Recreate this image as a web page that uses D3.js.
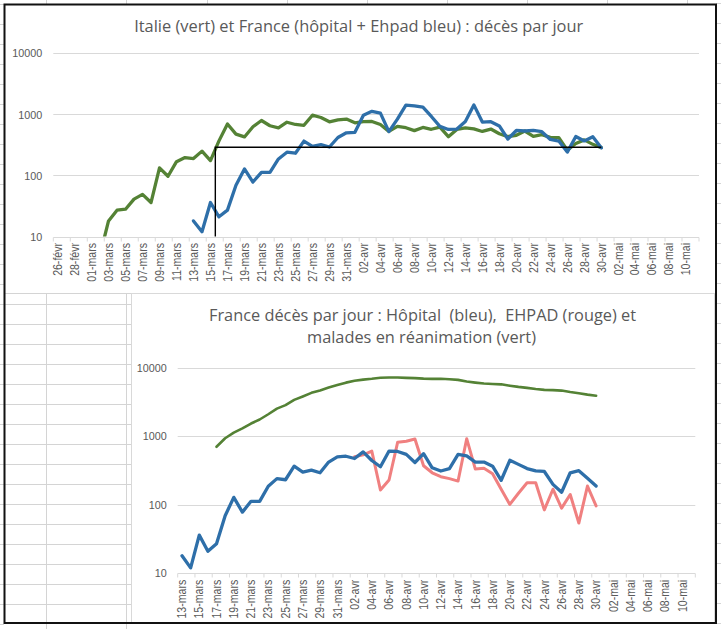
<!DOCTYPE html>
<html><head><meta charset="utf-8">
<script src="https://cdn.jsdelivr.net/npm/d3@7"></script>
<style>body{margin:0;background:#fff}svg{display:block}</style>
</head><body><svg id="c" width="721" height="629"></svg>
<script>
// ---------------- DATA ----------------
const yTicks = [10, 100, 1000, 10000];

const topCategories = ["26-févr","27-févr","28-févr","29-févr",
"01-mars","02-mars","03-mars","04-mars","05-mars","06-mars","07-mars","08-mars","09-mars","10-mars","11-mars","12-mars","13-mars","14-mars","15-mars","16-mars","17-mars","18-mars","19-mars","20-mars","21-mars","22-mars","23-mars","24-mars","25-mars","26-mars","27-mars","28-mars","29-mars","30-mars","31-mars",
"01-avr","02-avr","03-avr","04-avr","05-avr","06-avr","07-avr","08-avr","09-avr","10-avr","11-avr","12-avr","13-avr","14-avr","15-avr","16-avr","17-avr","18-avr","19-avr","20-avr","21-avr","22-avr","23-avr","24-avr","25-avr","26-avr","27-avr","28-avr","29-avr","30-avr",
"01-mai","02-mai","03-mai","04-mai","05-mai","06-mai","07-mai","08-mai","09-mai","10-mai","11-mai"];

const bottomCategories = ["13-mars","14-mars","15-mars","16-mars","17-mars","18-mars","19-mars","20-mars","21-mars","22-mars","23-mars","24-mars","25-mars","26-mars","27-mars","28-mars","29-mars","30-mars","31-mars",
"01-avr","02-avr","03-avr","04-avr","05-avr","06-avr","07-avr","08-avr","09-avr","10-avr","11-avr","12-avr","13-avr","14-avr","15-avr","16-avr","17-avr","18-avr","19-avr","20-avr","21-avr","22-avr","23-avr","24-avr","25-avr","26-avr","27-avr","28-avr","29-avr","30-avr",
"01-mai","02-mai","03-mai","04-mai","05-mai","06-mai","07-mai","08-mai","09-mai","10-mai","11-mai"];

// Top chart: Italy daily deaths (green), from 02-mars
const italyStart = "02-mars";
const italyDeaths = [5,18,27,28,41,49,36,133,97,168,196,189,250,175,368,694,475,427,627,793,651,601,743,683,662,969,889,756,812,837,
727,760,766,681,525,636,604,542,610,570,619,431,566,602,578,525,575,482,433,454,534,437,464,420,415,260,333,382,323,285];

// Top chart: France hospital + Ehpad daily deaths (blue), from 13-mars
const franceStart = "13-mars";
const franceTotalDeaths = [18,12,36,21,27,69,128,78,112,112,186,240,231,365,299,319,292,418,499,509,
971,1120,1046,521,834,1413,1381,1318,924,637,566,575,762,1430,748,758,647,395,545,534,545,520,389,366,241,433,367,430,283];

// Top chart: black reference line (category index of start, end category, level)
const refLineStartIndex = 18.57;
const refLineEnd = "30-avr";
const refLineLevel = 290;

// Bottom chart: hospital deaths (blue) from 13-mars
const hospitalStart = "13-mars";
const hospitalDeaths = [18,12,36,21,27,69,128,78,112,112,186,240,231,365,299,319,292,418,499,509,
471,588,441,357,605,597,541,412,554,345,310,335,541,514,417,418,364,227,444,387,336,311,305,198,152,292,313,243,187];

// Bottom chart: EHPAD deaths (red) from 02-avr
const ehpadStart = "02-avr";
const ehpadDeaths = [500,532,605,164,229,816,840,906,370,292,256,240,221,916,331,340,283,168,101,147,209,209,84,168,89,141,54,187,96];

// Bottom chart: ICU patients (green) from 17-mars
const icuStart = "17-mars";
const icuPatients = [699,931,1122,1297,1525,1746,2082,2516,2827,3375,3787,4273,4632,5107,5565,6017,6399,6662,6838,7072,7131,7148,7066,7004,6883,6821,6845,6730,6599,6248,6027,5833,5744,5683,5433,5218,5053,4870,4725,4682,4608,4387,4207,4019,3878];

const topTitle = "Italie (vert) et France (hôpital + Ehpad bleu) : décès par jour";
const bottomTitle = ["France décès par jour : Hôpital  (bleu),  EHPAD (rouge) et", "malades en réanimation (vert)"];

// ---------------- DRAWING ----------------
const svg = d3.select("#c");
const W = 721, H = 629;
const cellColor = "#D4D4D4";
const textColor = "#595959";
const labelFont = "'Liberation Sans', Arial, sans-serif";
const titleFont = "'Open Sans', 'Noto Sans', sans-serif";

svg.append("rect").attr("width", W).attr("height", H).attr("fill", "#fff");

// spreadsheet cells around / behind
const cells = svg.append("g").attr("stroke", cellColor).attr("stroke-width", 1).attr("shape-rendering", "crispEdges");
const colX = [46.5, 126.5, 207, 287, 367, 447, 527, 607, 687];
colX.forEach(cx => cells.append("line").attr("x1", cx).attr("x2", cx).attr("y1", 0).attr("y2", 4));
d3.range(0, 32).forEach(k => {
  const yy = 4.5 + 20 * k;
  cells.append("line").attr("x1", 0).attr("x2", 4).attr("y1", yy).attr("y2", yy);
  cells.append("line").attr("x1", 716).attr("x2", 721).attr("y1", yy - 1).attr("y2", yy - 1);
  if (yy > 294 && yy < 623) cells.append("line").attr("x1", 4).attr("x2", 131).attr("y1", yy).attr("y2", yy);
});
cells.append("line").attr("x1", 4).attr("x2", 131).attr("y1", 293.5).attr("y2", 293.5);
[46.5, 126.5].forEach(cx => cells.append("line").attr("x1", cx).attr("x2", cx).attr("y1", 293.5).attr("y2", 629));

// bottom chart background & border
svg.append("rect").attr("x", 131.5).attr("y", 293.5).attr("width", 582.5).attr("height", 329)
  .attr("fill", "#fff").attr("stroke", "#D9D9D9").attr("shape-rendering", "crispEdges");

function makeChart(o) {
  const g = svg.append("g");
  const x = d3.scaleBand().domain(o.categories).range([o.left, o.right]).padding(0);
  const bw = x.bandwidth();
  const y = d3.scaleLog().domain([10, 10000]).range([o.bottom, o.top]);
  const xi = d3.scaleLinear().domain([0, o.categories.length]).range([o.left, o.right]);

  g.selectAll(".grid").data(yTicks.slice(1)).join("line")
    .attr("x1", o.left).attr("x2", o.right)
    .attr("y1", d => Math.round(y(d)) + 0.5).attr("y2", d => Math.round(y(d)) + 0.5)
    .attr("stroke", "#D9D9D9").attr("stroke-width", 1);

  const ya = g.append("g").attr("transform", `translate(${o.left},0)`)
    .call(d3.axisLeft(y).tickValues(yTicks).tickFormat(d3.format("d")).tickSize(0).tickPadding(11));
  ya.select(".domain").remove();
  ya.selectAll("text").attr("font-family", labelFont).attr("font-size", 11.5)
    .attr("fill", textColor).attr("textLength", 30).attr("lengthAdjust", "spacingAndGlyphs")
    .each(function (d) { d3.select(this).attr("textLength", String(d).length * 6); });

  const yb = Math.round(o.bottom) + 0.5;
  g.append("line").attr("x1", o.left).attr("x2", o.right).attr("y1", yb).attr("y2", yb)
    .attr("stroke", "#D9D9D9").attr("stroke-width", 1);
  const tickCats = o.categories.filter((d, i) => i % 2 === 0);
  g.selectAll(".xt").data(tickCats.map(d => x(d)).concat([o.right])).join("line")
    .attr("x1", d => d).attr("x2", d => d).attr("y1", yb).attr("y2", yb + 4)
    .attr("stroke", "#D9D9D9").attr("stroke-width", 1);

  const xa = g.append("g").attr("transform", `translate(0,${o.bottom})`)
    .call(d3.axisBottom(x).tickValues(tickCats).tickSize(0));
  xa.select(".domain").remove();
  xa.selectAll("text")
    .attr("transform", "rotate(-90) scale(0.88,1)").attr("x", -7.4).attr("y", 0).attr("dy", "0.35em")
    .attr("text-anchor", "end")
    .attr("font-family", labelFont).attr("font-size", 12).attr("fill", textColor);

  const cid = "clip" + o.id;
  svg.append("clipPath").attr("id", cid).append("rect")
    .attr("x", o.left - 5).attr("y", o.top - 20).attr("width", o.right - o.left + 10).attr("height", o.bottom - o.top + 20);

  const lines = g.append("g").attr("clip-path", `url(#${cid})`);
  o.series.forEach(s => {
    const start = o.categories.indexOf(s.start);
    const pts = s.values.map((v, i) => ({ c: o.categories[start + i], v }));
    const line = d3.line().defined(d => d.v != null).x(d => x(d.c) + bw / 2).y(d => y(d.v));
    lines.append("path").datum(pts).attr("d", line)
      .attr("fill", "none").attr("stroke", s.color).attr("stroke-width", s.width)
      .attr("stroke-linejoin", "round").attr("stroke-linecap", "round");
  });
  return { g, x, y, xi, bw };
}

// ---- top chart ----
const topChart = makeChart({
  id: "t", categories: topCategories, left: 53.3, right: 699, top: 53.3, bottom: 236.5,
  series: [
    { start: italyStart, values: italyDeaths, color: "#548235", width: 3.3 },
    { start: franceStart, values: franceTotalDeaths, color: "#2E6FA9", width: 3.3 }
  ]
});
const refEndIdx = topCategories.indexOf(refLineEnd);
const refPts = [
  [topChart.xi(refLineStartIndex + 0.5), topChart.y(10)],
  [topChart.xi(refLineStartIndex + 0.5), topChart.y(refLineLevel)],
  [topChart.xi(refEndIdx + 0.5), topChart.y(refLineLevel)]
];
topChart.g.append("path").attr("d", d3.line()(refPts)).attr("fill", "none")
  .attr("stroke", "#000").attr("stroke-width", 1.4);

svg.append("text").attr("x", 358.7).attr("y", 32.3).attr("text-anchor", "middle")
  .attr("font-family", titleFont).attr("font-size", 17).attr("fill", textColor)
  .attr("textLength", 449).attr("lengthAdjust", "spacingAndGlyphs").text(topTitle);

// ---- bottom chart ----
makeChart({
  id: "b", categories: bottomCategories, left: 177.7, right: 695.3, top: 367.5, bottom: 573.3,
  series: [
    { start: icuStart, values: icuPatients, color: "#548235", width: 2.6 },
    { start: ehpadStart, values: ehpadDeaths, color: "#F08080", width: 3 },
    { start: hospitalStart, values: hospitalDeaths, color: "#2E6FA9", width: 3.3 }
  ]
});
const bl = [[422.5, 320.7, 427], [421.5, 342.7, 229]];
bottomTitle.forEach((t, i) => {
  svg.append("text").attr("x", bl[i][0]).attr("y", bl[i][1]).attr("text-anchor", "middle")
    .attr("xml:space", "preserve").style("white-space", "pre")
    .attr("font-family", titleFont).attr("font-size", 17).attr("fill", textColor)
    .attr("textLength", bl[i][2]).attr("lengthAdjust", "spacingAndGlyphs").text(t);
});

// outer black frame
svg.append("rect").attr("x", 4.5).attr("y", 4.5).attr("width", 711.5).attr("height", 618.5)
  .attr("fill", "none").attr("stroke", "#111").attr("stroke-width", 2);
</script></body></html>
